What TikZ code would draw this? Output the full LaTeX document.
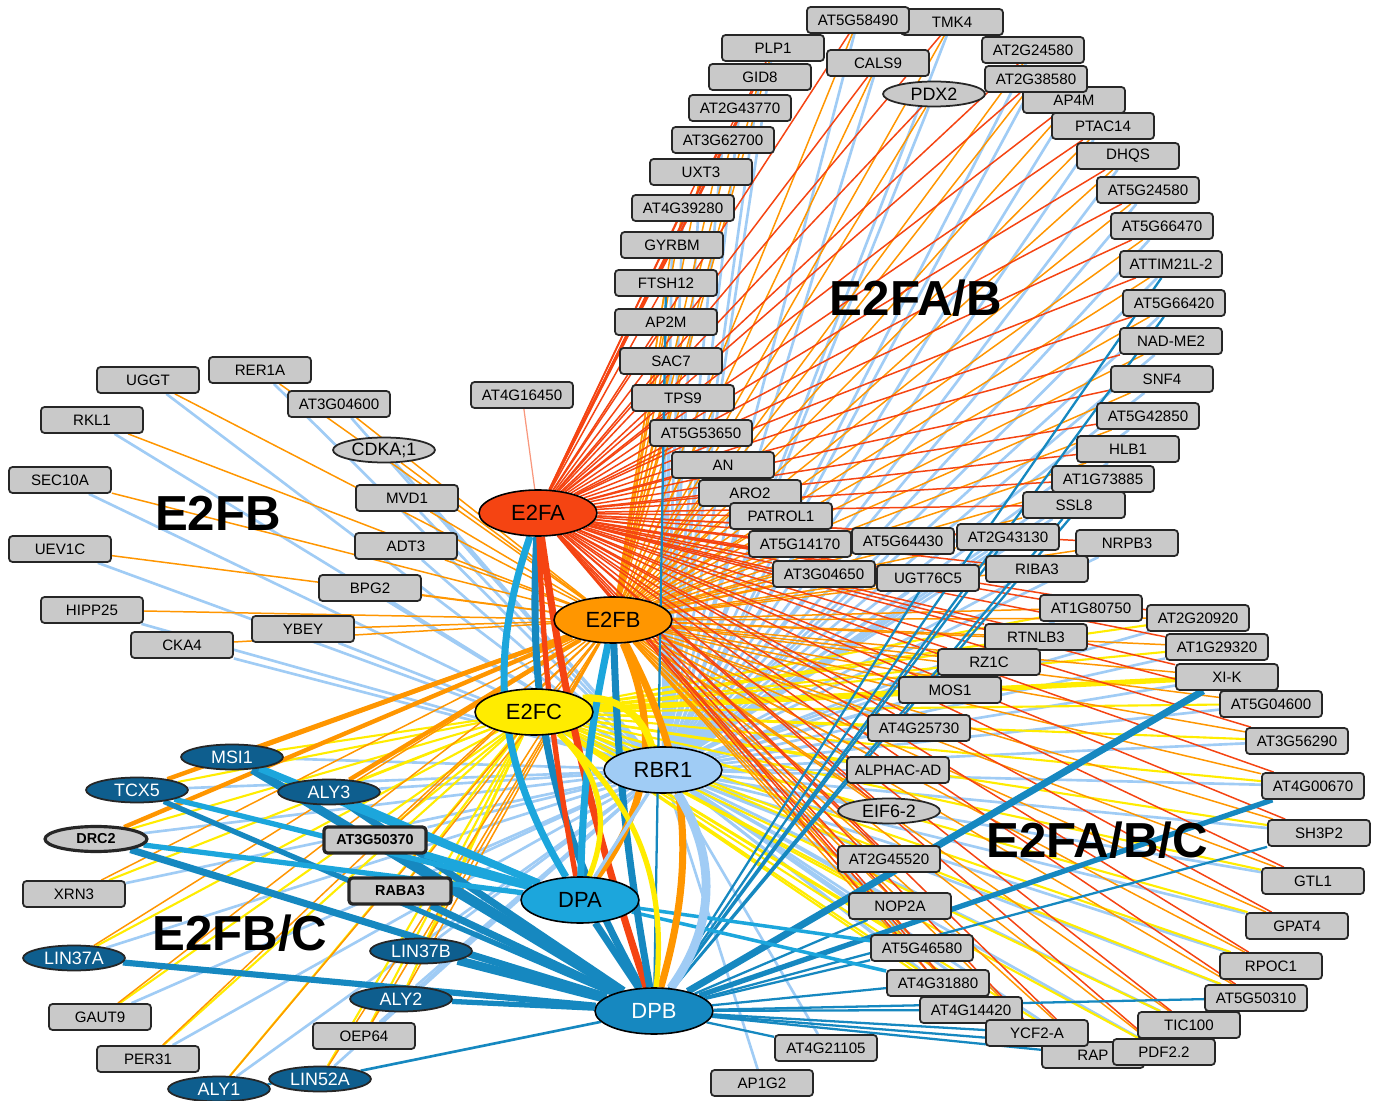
\documentclass[tikz,border=0pt]{standalone}
\usepackage{fontspec}
\setmainfont{Liberation Sans}
\usetikzlibrary{shapes.geometric}

\pgfdeclarelayer{background}
\pgfsetlayers{background,main}

\definecolor{colA}{RGB}{245,68,18}
\definecolor{colB}{RGB}{255,150,0}
\definecolor{colC}{RGB}{255,236,0}
\definecolor{colR}{RGB}{160,204,245}
\definecolor{colDA}{RGB}{28,166,220}
\definecolor{colDB}{RGB}{22,136,192}
\definecolor{colDk}{RGB}{14,94,142}
\definecolor{colBox}{RGB}{201,201,201}

\tikzset{
  gene/.style={rectangle,rounded corners=2pt,draw=black!85,line width=1pt,fill=colBox,
    minimum width=2.04cm,minimum height=0.52cm,inner sep=0pt,
    font=\fontsize{8.6}{9}\selectfont},
  genebold/.style={gene,line width=1.8pt,font=\fontsize{8.2}{9}\selectfont\bfseries},
  geneov/.style={ellipse,draw=black!85,line width=1pt,fill=colBox,
    minimum width=2.04cm,minimum height=0.5cm,inner sep=0pt,
    font=\fontsize{10.2}{10}\selectfont},
  darkov/.style={geneov,fill=colDk,text=white},
  hub/.style={ellipse,draw=black,line width=0.9pt,minimum width=2.36cm,
    minimum height=0.92cm,inner sep=0pt,font=\fontsize{12.5}{13}\selectfont},
  grouplabel/.style={font=\fontsize{28}{28}\selectfont\bfseries}
}

% target groups
\newcommand\topgenes{AT5G58490,TMK4,PLP1,CALS9,AT2G24580,GID8,AT2G38580,pdx,AT2G43770,AP4M,
  AT3G62700,PTAC14,UXT3,DHQS,AT4G39280,AT5G24580,GYRBM,AT5G66470,FTSH12,attim,AP2M,
  AT5G66420,SAC7,nadme,TPS9,SNF4,AT5G53650,AT5G42850,AN,HLB1,ARO2,AT1G73885,PATROL1,
  SSL8,AT5G14170,AT5G64430,AT2G43130,NRPB3,AT3G04650,UGT76C5,RIBA3}
\newcommand\rightgenes{AT1G80750,AT2G20920,RTNLB3,AT1G29320,RZ1C,xik,MOS1,AT5G04600,
  AT4G25730,AT3G56290,alphac,AT4G00670,eif,SH3P2,AT2G45520,GTL1,NOP2A,GPAT4,AT5G46580,
  RPOC1,AT4G31880,AT5G50310,AT4G14420,TIC100,ycf,RAP,pdf}
\newcommand\leftgenes{UGGT,RER1A,AT3G04600,RKL1,cdka,SEC10A,MVD1,UEV1C,ADT3,BPG2,
  HIPP25,YBEY,CKA4}
\newcommand\lowgenes{MSI1,TCX5,ALY3,drc,AT3G50370,XRN3,RABA3,LIN37A,LIN37B,ALY2,
  GAUT9,OEP64,PER31,ALY1,LIN52A}

\begin{document}
\begin{tikzpicture}[x=0.02cm,y=-0.02cm]
  \useasboundingbox (0,0) rectangle (1380,1101);

  % hubs
  \node[hub,fill=colA] (E2FA) at (538,513) {E2FA};
  \node[hub,fill=colB] (E2FB) at (613,620) {E2FB};
  \node[hub,fill=colC] (E2FC) at (534,712) {E2FC};
  \node[hub,fill=colR] (RBR1) at (663,770) {RBR1};
  \node[hub,fill=colDA] (DPA) at (580,900) {DPA};
  \node[hub,fill=colDB,text=white] (DPB) at (654,1011) {DPB};

  \begin{scope}[every node/.style={gene}]
    % E2FA/B
    \node (TMK4)      at (952,22)   {TMK4};
    \node (AT5G58490) at (858,20)   {AT5G58490};
    \node (PLP1)      at (773,48)   {PLP1};
    \node (CALS9)     at (878,63)   {CALS9};
    \node (AT2G24580) at (1033,50)  {AT2G24580};
    \node (GID8)      at (760,77)   {GID8};
    \node (AP4M)      at (1074,100) {AP4M};
    \node (AT2G38580) at (1036,79)  {AT2G38580};
    \node (AT2G43770) at (740,108)  {AT2G43770};
    \node (AT3G62700) at (723,140)  {AT3G62700};
    \node (PTAC14)    at (1103,126) {PTAC14};
    \node (UXT3)      at (701,172)  {UXT3};
    \node (DHQS)      at (1128,156) {DHQS};
    \node (AT4G39280) at (683,208)  {AT4G39280};
    \node (AT5G24580) at (1148,190) {AT5G24580};
    \node (GYRBM)     at (672,245)  {GYRBM};
    \node (AT5G66470) at (1162,226) {AT5G66470};
    \node (FTSH12)    at (666,283)  {FTSH12};
    \node (attim)     at (1171,264) {ATTIM21L-2};
    \node (AP2M)      at (666,322)  {AP2M};
    \node (AT5G66420) at (1174,303) {AT5G66420};
    \node (SAC7)      at (671,361)  {SAC7};
    \node (nadme)     at (1171,341) {NAD-ME2};
    \node (TPS9)      at (683,398)  {TPS9};
    \node (SNF4)      at (1162,379) {SNF4};
    \node (AT5G53650) at (701,433)  {AT5G53650};
    \node (AT5G42850) at (1148,416) {AT5G42850};
    \node (AN)        at (723,465)  {AN};
    \node (HLB1)      at (1128,449) {HLB1};
    \node (ARO2)      at (750,493)  {ARO2};
    \node (AT1G73885) at (1103,479) {AT1G73885};
    \node (PATROL1)   at (781,516)  {PATROL1};
    \node (SSL8)      at (1074,505) {SSL8};
    \node (AT5G14170) at (800,544)  {AT5G14170};
    \node (AT5G64430) at (903,541)  {AT5G64430};
    \node (AT2G43130) at (1008,537) {AT2G43130};
    \node (NRPB3)     at (1127,543) {NRPB3};
    \node (AT3G04650) at (824,574)  {AT3G04650};
    \node (UGT76C5)   at (928,578)  {UGT76C5};
    \node (RIBA3)     at (1037,569) {RIBA3};
    \node (AT4G16450) at (522,395)  {AT4G16450};
    % E2FB
    \node (UGGT)      at (148,380)  {UGGT};
    \node (RER1A)     at (260,370)  {RER1A};
    \node (AT3G04600) at (339,404)  {AT3G04600};
    \node (RKL1)      at (92,420)   {RKL1};
    \node (SEC10A)    at (60,480)   {SEC10A};
    \node (MVD1)      at (407,498)  {MVD1};
    \node (UEV1C)     at (60,549)   {UEV1C};
    \node (ADT3)      at (406,546)  {ADT3};
    \node (BPG2)      at (370,588)  {BPG2};
    \node (HIPP25)    at (92,610)   {HIPP25};
    \node (YBEY)      at (303,629)  {YBEY};
    \node (CKA4)      at (182,645)  {CKA4};
    % E2FA/B/C
    \node (AT1G80750) at (1091,608) {AT1G80750};
    \node (AT2G20920) at (1198,618) {AT2G20920};
    \node (RTNLB3)    at (1036,637) {RTNLB3};
    \node (AT1G29320) at (1217,647) {AT1G29320};
    \node (RZ1C)      at (989,662)  {RZ1C};
    \node (xik)       at (1227,677) {XI-K};
    \node (MOS1)      at (950,690)  {MOS1};
    \node (AT5G04600) at (1271,704) {AT5G04600};
    \node (AT4G25730) at (919,728)  {AT4G25730};
    \node (AT3G56290) at (1297,741) {AT3G56290};
    \node (alphac)    at (898,770)  {ALPHAC-AD};
    \node (AT4G00670) at (1313,786) {AT4G00670};
    \node (SH3P2)     at (1319,833) {SH3P2};
    \node (AT2G45520) at (889,859)  {AT2G45520};
    \node (GTL1)      at (1313,881) {GTL1};
    \node (NOP2A)     at (900,906)  {NOP2A};
    \node (GPAT4)     at (1297,926) {GPAT4};
    \node (AT5G46580) at (922,948)  {AT5G46580};
    \node (RPOC1)     at (1271,966) {RPOC1};
    \node (AT4G31880) at (938,983)  {AT4G31880};
    \node (AT5G50310) at (1256,998) {AT5G50310};
    \node (AT4G14420) at (971,1010) {AT4G14420};
    \node (TIC100)    at (1189,1025) {TIC100};
    \node (RAP)       at (1093,1055) {RAP};
    \node (ycf)       at (1037,1033) {YCF2-A};
    \node (pdf)       at (1164,1052) {PDF2.2};
    \node (AT4G21105) at (826,1048) {AT4G21105};
    \node (AP1G2)     at (762,1083) {AP1G2};
    % E2FB/C
    \node (XRN3)      at (74,894)   {XRN3};
    \node (GAUT9)     at (100,1017) {GAUT9};
    \node (OEP64)     at (364,1036) {OEP64};
    \node (PER31)     at (148,1059) {PER31};
  \end{scope}

  \node[genebold] (AT3G50370) at (375,840) {AT3G50370};
  \node[genebold] (RABA3) at (400,891) {RABA3};

  \node[geneov] (pdx)  at (934,94)  {PDX2};
  \node[geneov] (cdka) at (384,450) {CDKA;1};
  \node[geneov] (eif)  at (889,811) {EIF6-2};
  \node[geneov,line width=1.8pt,font=\fontsize{8.2}{9}\selectfont\bfseries] (drc) at (96,839) {DRC2};

  \begin{scope}[every node/.style={darkov}]
    \node (MSI1)   at (232,757)  {MSI1};
    \node (TCX5)   at (137,790)  {TCX5};
    \node (ALY3)   at (329,792)  {ALY3};
    \node (LIN37A) at (74,958)   {LIN37A};
    \node (LIN37B) at (421,951)  {LIN37B};
    \node (ALY2)   at (401,999)  {ALY2};
    \node (ALY1)   at (219,1089) {ALY1};
    \node (LIN52A) at (320,1079) {LIN52A};
  \end{scope}

  % group labels
  \node[grouplabel] (labAB)  at (916,298)  {E2FA/B};
  \node[grouplabel] (labB)   at (218,513)  {E2FB};
  \node[grouplabel] (labABC) at (1097,840) {E2FA/B/C};
  \node[grouplabel] (labBC)  at (240,933)  {E2FB/C};

  \begin{pgfonlayer}{background}
    \fill[white] (0,0) rectangle (1380,1101);

    % RBR1
    \begin{scope}[every edge/.style={draw,colR,line width=1.5pt}]
      \foreach \g in \topgenes {\path (RBR1) edge (\g);}
      \foreach \g in \rightgenes {\path (RBR1) edge (\g);}
      \foreach \g in \leftgenes {\path (RBR1) edge (\g);}
      \foreach \g in \lowgenes {\path (RBR1) edge (\g);}
      \path (RBR1) edge (AP1G2);
      \path (RBR1) edge (AT4G21105);
    \end{scope}

    % E2FC
    \begin{scope}[every edge/.style={draw,colC,line width=1.2pt}]
      \foreach \g in \rightgenes {\path (E2FC) edge (\g);}
      \foreach \g in \lowgenes {\path (E2FC) edge (\g);}
      \path (E2FC) edge[line width=3pt] (xik);
      \path (E2FC) edge[line width=3pt] (MOS1);
    \end{scope}

    % E2FB
    \begin{scope}[every edge/.style={draw,colB,line width=0.85pt}]
      \foreach \g in \topgenes {\path (E2FB) edge (\g);}
      \foreach \g in \rightgenes {\path (E2FB) edge (\g);}
      \foreach \g in \leftgenes {\path (E2FB) edge (\g);}
      \foreach \g in \lowgenes {\path (E2FB) edge (\g);}
      \path (E2FB) edge[line width=2.5pt] (MSI1);
      \path (E2FB) edge[line width=2.5pt] (TCX5);
      \path (E2FB) edge[line width=2.5pt] (drc);
      \path (E2FB) edge[line width=2.5pt] (ALY3);
    \end{scope}

    % E2FA
    \begin{scope}[every edge/.style={draw,colA,line width=0.85pt}]
      \foreach \g in \topgenes {\path (E2FA) edge (\g);}
      \foreach \g in \rightgenes {\path (E2FA) edge (\g);}
      \path (E2FA) edge[colA!55,line width=0.7pt] (AT4G16450);
    \end{scope}

    % DPA, DPB
    \begin{scope}[every edge/.style={draw,colDB,line width=1.3pt}]
      \foreach \g in {attim,AT5G66420,AT1G73885,SSL8,UGT76C5,AT2G43130,FTSH12,
        SH3P2,NOP2A,AT5G46580,AT4G31880,AT4G14420,ycf,RAP,AT5G50310,pdf,AT4G21105}
        {\path (DPB) edge (\g);}
      \path (DPB) edge[line width=4pt] (xik);
      \path (DPB) edge[line width=3pt] (AT4G00670);
      \path (DPB) edge[line width=5pt] (MSI1);
      \path (DPB) edge[line width=3pt] (TCX5);
      \path (DPB) edge[line width=4pt] (ALY3);
      \path (DPB) edge[line width=4pt] (drc);
      \path (DPB) edge[line width=5pt] (AT3G50370);
      \path (DPB) edge[line width=4pt] (RABA3);
      \path (DPB) edge[line width=3.5pt] (LIN37A);
      \path (DPB) edge[line width=5pt] (LIN37B);
      \path (DPB) edge[line width=3pt] (ALY2);
      \path (DPB) edge[line width=1.5pt] (LIN52A);
      \path (LIN52A) edge[line width=1.3pt] (ALY1);
      \path (DPA) edge[colDA,line width=4pt] (MSI1);
      \path (DPA) edge[colDA,line width=3pt] (TCX5);
      \path (DPA) edge[colDA,line width=3pt] (ALY3);
      \path (DPA) edge[colDA,line width=3pt] (drc);
      \path (DPA) edge[colDA,line width=4pt] (AT3G50370);
      \path (DPA) edge[colDA,line width=2pt] (AT5G46580);
      \path (DPA) edge[colDA,line width=2pt] (AT4G31880);
    \end{scope}

    % hub to hub
    \begin{scope}[every edge/.style={draw}]
      \path (E2FA) edge[colDA,line width=4pt,bend right=25] (DPA);
      \path (E2FA) edge[colDB,line width=4pt,bend right=16] (DPB);
      \path (E2FA) edge[colA,line width=3pt,bend right=4] (DPA);
      \path (E2FA) edge[colA,line width=4pt,bend right=5] (DPB);
      \path (E2FB) edge[colDA,line width=4pt,bend right=5] (DPA);
      \path (E2FB) edge[colDB,line width=4pt,bend right=4] (DPB);
      \path (E2FB) edge[colB,line width=4pt,bend left=30] (DPA);
      \path (E2FB) edge[colB,line width=4pt,bend left=22] (DPB);
      \path (E2FC) edge[colC,line width=3pt,bend left=35] (DPA);
      \path (E2FC) edge[colC,line width=3pt,bend left=27] (DPB);
      \path (E2FC) edge[colC,line width=4pt,bend left=40] (RBR1);
      \path (RBR1) edge[colR,line width=5pt,bend left=34] (DPB);
      \path (RBR1) edge[colR,line width=2pt] (DPA);
      \path (DPA) edge[colDB,line width=4pt] (DPB);
    \end{scope}
  \end{pgfonlayer}
\end{tikzpicture}
\end{document}
